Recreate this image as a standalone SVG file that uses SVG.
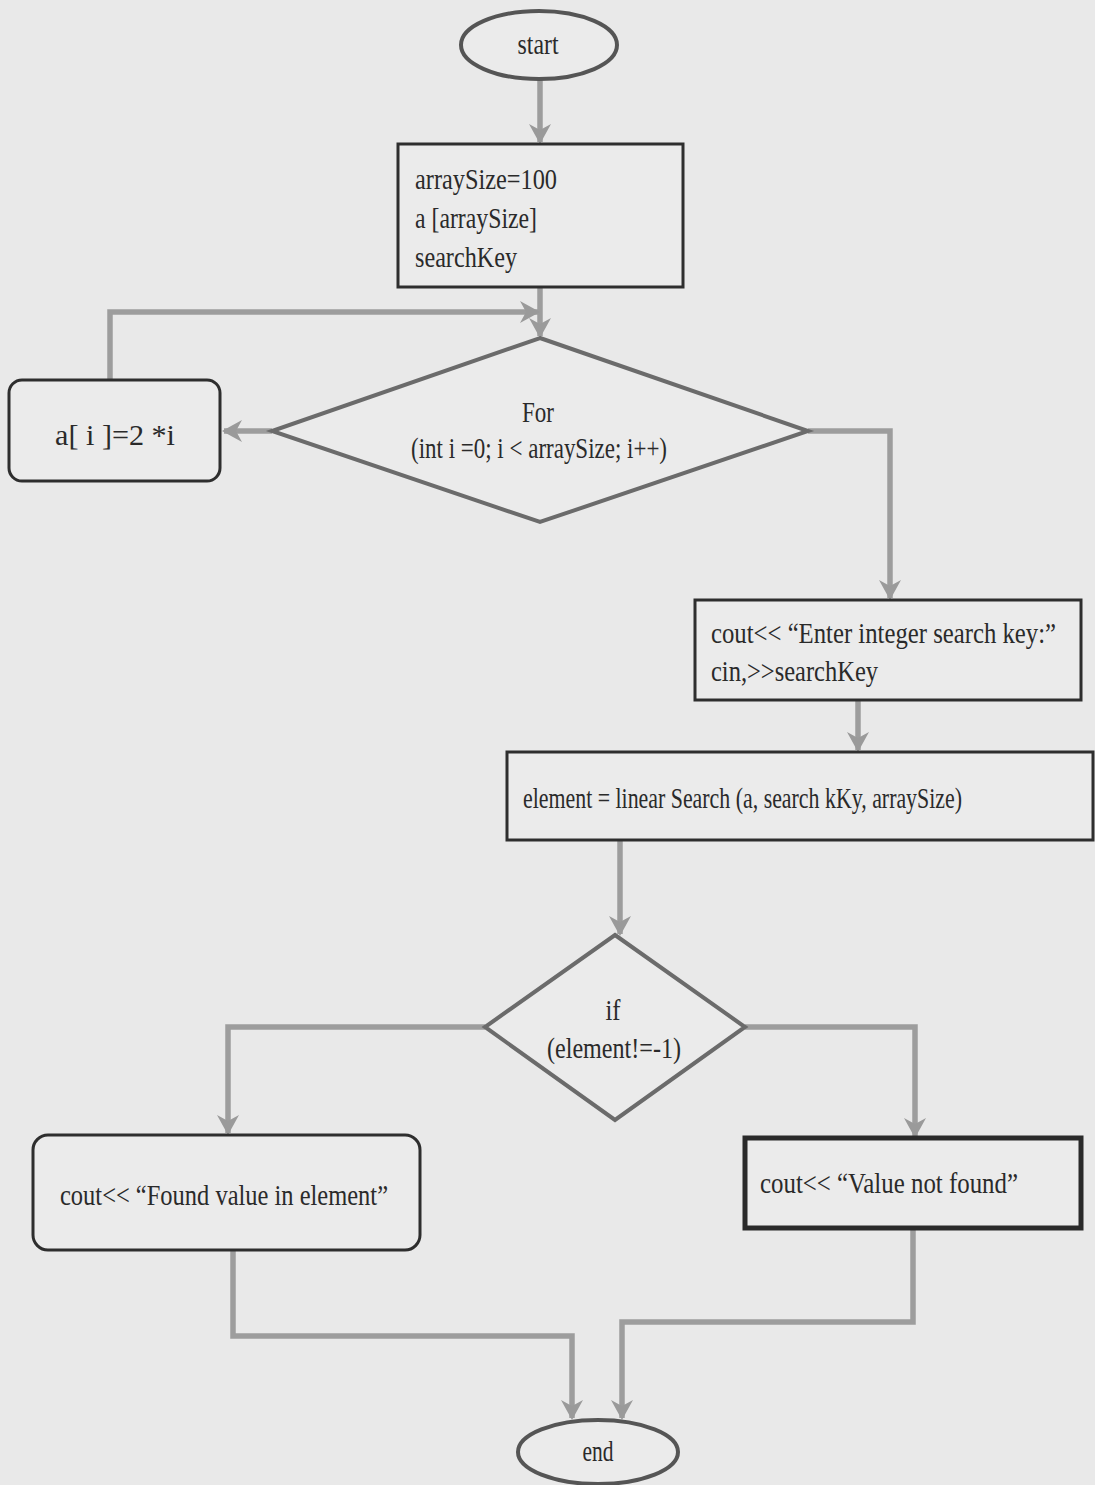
<svg xmlns="http://www.w3.org/2000/svg" width="1095" height="1485" viewBox="0 0 1095 1485">
  <style>
    .bg { fill: #e9e9e9; }
    .box { fill: #ebebeb; stroke: #2e2e2e; stroke-width: 3; }
    .thick { fill: #ebebeb; stroke: #2a2a2a; stroke-width: 5; }
    .dec { fill: #ebebeb; stroke: #6b6b6b; stroke-width: 4; }
    .term { fill: #ebebeb; stroke: #555555; stroke-width: 4; }
    .lbl { font-family: "Liberation Serif", "Times New Roman", serif; font-size: 29px; fill: #2a2a2a; }
    .mid { text-anchor: middle; }
    .wire { fill: none; stroke: #9d9d9d; stroke-width: 5.5; stroke-linejoin: miter; }
  </style>
  <defs>
    <marker id="arrow" markerUnits="userSpaceOnUse" markerWidth="22" markerHeight="24" refX="18" refY="12" orient="auto">
      <path d="M0,1 L20,12 L0,23 L6,12 Z" fill="#9a9a9a"/>
    </marker>
  </defs>

  <rect class="bg" x="0" y="0" width="1095" height="1485"/>

  <!-- connectors -->
  <g id="connectors">
    <path class="wire" d="M540,80 L540,142" marker-end="url(#arrow)"/>
    <path class="wire" d="M540,288 L540,336" marker-end="url(#arrow)"/>
    <path class="wire" d="M110,380 L110,312 L538,312" marker-end="url(#arrow)"/>
    <path class="wire" d="M272,431 L224,431" marker-end="url(#arrow)"/>
    <path class="wire" d="M808,431 L890,431 L890,598" marker-end="url(#arrow)"/>
    <path class="wire" d="M858,701 L858,750" marker-end="url(#arrow)"/>
    <path class="wire" d="M620,841 L620,934" marker-end="url(#arrow)"/>
    <path class="wire" d="M485,1027 L228,1027 L228,1133" marker-end="url(#arrow)"/>
    <path class="wire" d="M745,1027 L915,1027 L915,1136" marker-end="url(#arrow)"/>
    <path class="wire" d="M233,1251 L233,1336 L572,1336 L572,1418" marker-end="url(#arrow)"/>
    <path class="wire" d="M913,1229 L913,1322 L622,1322 L622,1418" marker-end="url(#arrow)"/>
  </g>

  <!-- start -->
  <g id="start">
    <ellipse class="term" cx="539" cy="45" rx="78" ry="34"/>
    <text class="lbl mid" x="538" y="54" font-size="24" textLength="41" lengthAdjust="spacingAndGlyphs">start</text>
  </g>

  <!-- declarations -->
  <g id="init">
    <rect class="box" x="398" y="144" width="285" height="143"/>
    <text class="lbl" x="415" y="189" textLength="142" lengthAdjust="spacingAndGlyphs">arraySize=100</text>
    <text class="lbl" x="415" y="228" textLength="122" lengthAdjust="spacingAndGlyphs">a [arraySize]</text>
    <text class="lbl" x="415" y="267" textLength="102" lengthAdjust="spacingAndGlyphs">searchKey</text>
  </g>

  <!-- for loop decision -->
  <g id="forLoop">
    <polygon class="dec" points="540,338 808,431 540,522 272,431"/>
    <text class="lbl mid" x="538" y="422" font-size="27" textLength="32" lengthAdjust="spacingAndGlyphs">For</text>
    <text class="lbl mid" x="539" y="458" font-size="26" textLength="256" lengthAdjust="spacingAndGlyphs">(int i =0; i &lt; arraySize; i++)</text>
  </g>

  <!-- loop body -->
  <g id="assign">
    <rect class="box" x="9" y="380" width="211" height="101" rx="13"/>
    <text class="lbl" x="55" y="445" textLength="120" lengthAdjust="spacingAndGlyphs">a[ i ]=2 *i</text>
  </g>

  <!-- input -->
  <g id="input">
    <rect class="box" x="695" y="600" width="386" height="100"/>
    <text class="lbl" x="711" y="643" textLength="345" lengthAdjust="spacingAndGlyphs">cout&lt;&lt; “Enter integer search key:”</text>
    <text class="lbl" x="711" y="681" textLength="167" lengthAdjust="spacingAndGlyphs">cin,&gt;&gt;searchKey</text>
  </g>

  <!-- search call -->
  <g id="search">
    <rect class="box" x="507" y="752" width="586" height="88"/>
    <text class="lbl" x="523" y="808" font-size="26" textLength="439" lengthAdjust="spacingAndGlyphs">element = linear Search (a, search kKy, arraySize)</text>
  </g>

  <!-- result decision -->
  <g id="check">
    <polygon class="dec" points="615,935 745,1027 615,1120 485,1027"/>
    <text class="lbl mid" x="613" y="1020" textLength="15" lengthAdjust="spacingAndGlyphs">if</text>
    <text class="lbl mid" x="614" y="1058" textLength="134" lengthAdjust="spacingAndGlyphs">(element!=-1)</text>
  </g>

  <!-- found -->
  <g id="found">
    <rect class="box" x="33" y="1135" width="387" height="115" rx="15"/>
    <text class="lbl" x="60" y="1205" textLength="328" lengthAdjust="spacingAndGlyphs">cout&lt;&lt; “Found value in element”</text>
  </g>

  <!-- not found -->
  <g id="notFound">
    <rect class="thick" x="745" y="1138" width="336" height="90"/>
    <text class="lbl" x="760" y="1193" textLength="258" lengthAdjust="spacingAndGlyphs">cout&lt;&lt; “Value not found”</text>
  </g>

  <!-- end -->
  <g id="end">
    <ellipse class="term" cx="598" cy="1452" rx="80" ry="32"/>
    <text class="lbl mid" x="598" y="1461" font-size="24" textLength="31" lengthAdjust="spacingAndGlyphs">end</text>
  </g>
</svg>
